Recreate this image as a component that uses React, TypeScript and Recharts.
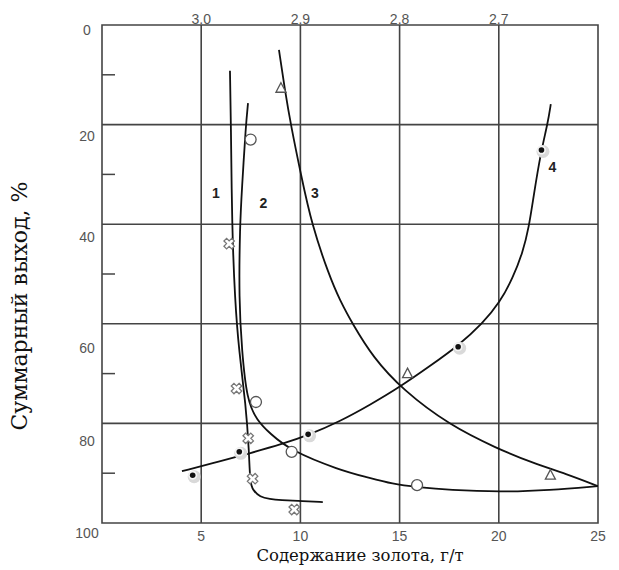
import { ComposedChart, Line, Scatter, XAxis, YAxis, ReferenceLine, ReferenceArea, Label } from 'recharts';

// axis ticks
const xTicks = [5, 10, 15, 20, 25];
const topTicks = [5, 10, 15, 20];
const topTickLabels = ['3.0', '2.9', '2.8', '2.7'];
const yTicks = [0, 10, 20, 30, 40, 50, 60, 70, 80, 90, 100];
const yLabelTicks = [0, 20, 40, 60, 80, 100];
const gridX = [5, 10, 15, 20];
const gridY = [20, 40, 60, 80];

// fitted curves
const curve1 = [
  { x: 6.45, y: 9.2 }, { x: 6.5, y: 20.1 }, { x: 6.55, y: 40.2 }, { x: 6.7, y: 55.2 },
  { x: 6.9, y: 65.3 }, { x: 7.25, y: 76.3 }, { x: 7.41, y: 85.4 }, { x: 7.46, y: 92.0 },
  { x: 7.61, y: 93.4 }, { x: 7.96, y: 94.8 }, { x: 8.46, y: 95.2 }, { x: 8.97, y: 95.4 },
  { x: 10.13, y: 95.6 }, { x: 11.13, y: 95.8 },
];
const curve2 = [
  { x: 7.36, y: 15.7 }, { x: 7.25, y: 20.1 }, { x: 7.05, y: 33.1 }, { x: 6.95, y: 40.2 },
  { x: 6.9, y: 55.2 }, { x: 7.05, y: 65.3 }, { x: 7.3, y: 75.3 }, { x: 7.81, y: 79.4 },
  { x: 8.46, y: 82.0 }, { x: 9.47, y: 85.4 }, { x: 11.99, y: 89.4 }, { x: 13.35, y: 90.8 },
  { x: 14.66, y: 92.2 }, { x: 15.87, y: 92.8 }, { x: 17.53, y: 93.4 }, { x: 20.05, y: 93.8 },
  { x: 22.57, y: 93.4 }, { x: 24.99, y: 92.6 },
];
const curve3 = [
  { x: 8.92, y: 5.0 }, { x: 9.22, y: 13.1 }, { x: 9.52, y: 20.1 }, { x: 10.03, y: 30.1 },
  { x: 10.58, y: 40.2 }, { x: 11.44, y: 50.2 }, { x: 11.99, y: 55.3 }, { x: 12.64, y: 60.1 },
  { x: 13.65, y: 66.7 }, { x: 15.16, y: 73.3 }, { x: 17.53, y: 80.4 }, { x: 19.9, y: 85.0 },
  { x: 21.61, y: 87.8 }, { x: 23.43, y: 90.2 }, { x: 24.99, y: 92.6 },
];
const curve4 = [
  { x: 4.03, y: 89.6 }, { x: 5.94, y: 87.6 }, { x: 7.46, y: 86.0 }, { x: 9.12, y: 84.1 },
  { x: 10.38, y: 82.4 }, { x: 11.99, y: 79.6 }, { x: 13.5, y: 76.3 }, { x: 15.01, y: 72.7 },
  { x: 16.52, y: 68.5 }, { x: 17.93, y: 64.5 }, { x: 19.19, y: 59.9 }, { x: 20.05, y: 55.7 },
  { x: 20.71, y: 50.8 }, { x: 21.21, y: 45.6 }, { x: 21.51, y: 40.8 }, { x: 21.76, y: 34.2 },
  { x: 22.12, y: 25.5 }, { x: 22.47, y: 19.7 }, { x: 22.62, y: 15.9 },
];

// measured points
const crossPts = [
  { x: 6.41, y: 43.9 }, { x: 6.78, y: 73.0 }, { x: 7.37, y: 83.0 }, { x: 7.59, y: 91.1 }, { x: 9.69, y: 97.3 },
];
const circlePts = [
  { x: 7.49, y: 23.0 }, { x: 7.76, y: 75.7 }, { x: 9.56, y: 85.7 }, { x: 15.88, y: 92.4 },
];
const trianglePts = [
  { x: 9.02, y: 12.7 }, { x: 15.4, y: 70.0 }, { x: 22.6, y: 90.4 },
];
const dotPts = [
  { x: 4.57, y: 90.4 }, { x: 6.92, y: 85.7 }, { x: 10.39, y: 82.2 }, { x: 17.95, y: 64.6 }, { x: 22.15, y: 25.1 },
];

// curve numbers
const curveLabels = [
  { x: 5.74, y: 33.8, text: '1' },
  { x: 8.13, y: 35.8, text: '2' },
  { x: 10.73, y: 33.8, text: '3' },
  { x: 22.7, y: 28.5, text: '4' },
];

const PLOT_LEFT = 102;
const INK = '#444';
const sans = '"Liberation Sans", Arial, sans-serif';
const serif = '"DejaVu Serif", serif';

// small nudges so the y labels sit where the original has them
const yNudge: Record<number, number> = { 0: 5, 20: 11, 40: 13, 60: 24, 80: 18, 100: 10 };

function YTick({ y, payload }: any) {
  const v = payload.value;
  if (yLabelTicks.includes(v)) {
    return (
      <text x={87} y={y + (yNudge[v] ?? 0)} textAnchor="middle" dominantBaseline="central"
        fill="#555" fontSize={14} fontFamily={sans}>
        {v}
      </text>
    );
  }
  return <line x1={PLOT_LEFT} x2={PLOT_LEFT + 13} y1={y} y2={y} stroke={INK} strokeWidth={1.5} />;
}

// outlined "x" marker
const crossPath = (() => {
  const w = 1.9, r = 5.5;
  const pts = [[-w, -r], [w, -r], [w, -w], [r, -w], [r, w], [w, w], [w, r], [-w, r], [-w, w], [-r, w], [-r, -w], [-w, -w]];
  return pts.map(([px, py], i) => {
    const qx = (px - py) / Math.SQRT2;
    const qy = (px + py) / Math.SQRT2;
    return `${i ? 'L' : 'M'}${qx.toFixed(2)},${qy.toFixed(2)}`;
  }).join('') + 'Z';
})();

const CrossShape = ({ cx, cy }: any) => (
  <path d={crossPath} transform={`translate(${cx},${cy})`} fill="#fff" stroke="#777" strokeWidth={1.3} />
);
const CircleShape = ({ cx, cy }: any) => (
  <circle cx={cx} cy={cy} r={5.5} fill="#fff" stroke="#555" strokeWidth={1.3} />
);
const TriangleShape = ({ cx, cy }: any) => (
  <path d={`M${cx},${cy - 5.5}L${cx + 5},${cy + 4}L${cx - 5},${cy + 4}Z`} fill="#fff" stroke="#555" strokeWidth={1.3} />
);
const DotShape = ({ cx, cy }: any) => (
  <g>
    <circle cx={cx + 1.5} cy={cy + 1.5} r={6.5} fill="#d9d9d9" />
    <circle cx={cx} cy={cy} r={4.5} fill="#f5f5f5" />
    <circle cx={cx} cy={cy} r={2.8} fill="#111" />
  </g>
);
const NumberShape = ({ cx, cy, payload }: any) => (
  <text x={cx} y={cy} textAnchor="middle" dominantBaseline="central" fontSize={14}
    fontWeight="bold" fontFamily={sans} fill="#222">
    {payload.text}
  </text>
);

export default function App() {
  return (
    <div style={{ width: 619, height: 570, background: '#fff' }}>
      <style>{'body{margin:0}'}</style>
      <ComposedChart width={619} height={570} margin={{ top: 5, right: 21, bottom: 0, left: 0 }}>
        <XAxis
          dataKey="x"
          type="number"
          domain={[0, 25]}
          ticks={xTicks}
          interval={0}
          height={47}
          tickSize={8}
          tickMargin={0}
          tickLine={false}
          axisLine={false}
          allowDataOverflow
          tick={{ fill: '#555', fontSize: 14, fontFamily: sans }}
        >
          <Label
            content={() => (
              <text x={360} y={561} textAnchor="middle" fontSize={16.5} fontFamily={serif} fill="#111">
                Содержание золота, г/т
              </text>
            )}
          />
        </XAxis>
        <XAxis
          xAxisId="top"
          orientation="top"
          dataKey="x"
          type="number"
          domain={[0, 25]}
          ticks={topTicks}
          interval={0}
          height={20}
          tickSize={1}
          tickMargin={0}
          tickLine={false}
          axisLine={false}
          allowDataOverflow
          tickFormatter={(v: number) => topTickLabels[topTicks.indexOf(v)] ?? ''}
          tick={{ fill: '#555', fontSize: 14, fontFamily: sans }}
        />
        <YAxis
          dataKey="y"
          type="number"
          domain={[0, 100]}
          reversed
          ticks={yTicks}
          interval={0}
          width={102}
          tickLine={false}
          axisLine={false}
          allowDataOverflow
          tick={<YTick />}
        >
          <Label
            content={() => (
              <text x={19} y={306} transform="rotate(-90, 19, 306)" textAnchor="middle"
                dominantBaseline="central" fontSize={22} fontFamily={serif} fill="#111">
                Суммарный выход, %
              </text>
            )}
          />
        </YAxis>

        {gridX.map((v) => (
          <ReferenceLine key={`gx${v}`} x={v} stroke={INK} strokeWidth={1.6} />
        ))}
        {gridY.map((v) => (
          <ReferenceLine key={`gy${v}`} y={v} stroke={INK} strokeWidth={1.6} />
        ))}
        <ReferenceArea x1={0} x2={25} y1={0} y2={100} fill="none" stroke={INK} strokeWidth={1.6} />

        <Line data={curve1} dataKey="y" type="basis" dot={false} stroke="#111" strokeWidth={1.8} isAnimationActive={false} />
        <Line data={curve2} dataKey="y" type="basis" dot={false} stroke="#111" strokeWidth={1.8} isAnimationActive={false} />
        <Line data={curve3} dataKey="y" type="basis" dot={false} stroke="#111" strokeWidth={1.8} isAnimationActive={false} />
        <Line data={curve4} dataKey="y" type="basis" dot={false} stroke="#111" strokeWidth={1.8} isAnimationActive={false} />

        <Scatter data={crossPts} dataKey="y" shape={<CrossShape />} isAnimationActive={false} />
        <Scatter data={circlePts} dataKey="y" shape={<CircleShape />} isAnimationActive={false} />
        <Scatter data={trianglePts} dataKey="y" shape={<TriangleShape />} isAnimationActive={false} />
        <Scatter data={dotPts} dataKey="y" shape={<DotShape />} isAnimationActive={false} />
        <Scatter data={curveLabels} xAxisId="top" dataKey="y" shape={<NumberShape />} isAnimationActive={false} />
      </ComposedChart>
    </div>
  );
}
